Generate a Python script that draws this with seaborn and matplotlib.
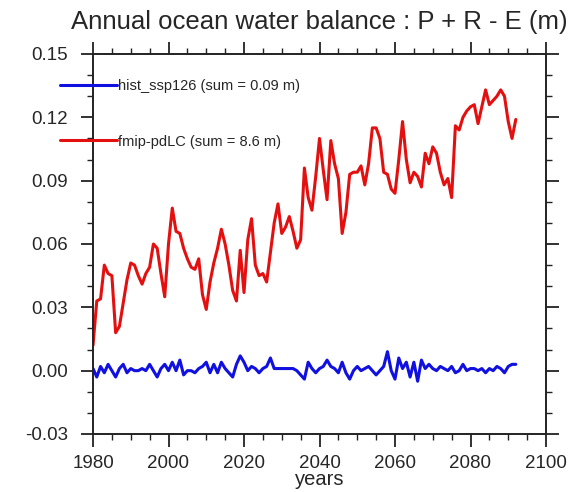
import matplotlib
matplotlib.use("Agg")
import matplotlib.pyplot as plt
from matplotlib.ticker import MultipleLocator, FormatStrFormatter, FuncFormatter
import numpy as np
import pandas as pd
import seaborn as sns

years = list(range(1980, 2093))

# fmip-pdLC, annual ocean P + R - E (m)
fmip_pdlc = [
    0.012, 0.033, 0.034, 0.050, 0.046, 0.045, 0.018, 0.021, 0.032, 0.043,
    0.051, 0.050, 0.045, 0.041, 0.046, 0.049, 0.060, 0.058, 0.046, 0.035,
    0.060, 0.077, 0.066, 0.065, 0.058, 0.053, 0.049, 0.048, 0.053, 0.036,
    0.029, 0.042, 0.051, 0.058, 0.067, 0.060, 0.050, 0.038, 0.033, 0.057,
    0.037, 0.062, 0.072, 0.050, 0.045, 0.046, 0.042, 0.056, 0.070, 0.079,
    0.065, 0.068, 0.073, 0.066, 0.058, 0.062, 0.096, 0.082, 0.076, 0.092,
    0.110, 0.095, 0.081, 0.109, 0.098, 0.091, 0.065, 0.075, 0.093, 0.094,
    0.094, 0.097, 0.088, 0.098, 0.115, 0.115, 0.110, 0.094, 0.093, 0.086,
    0.084, 0.100, 0.118, 0.100, 0.089, 0.094, 0.092, 0.087, 0.103, 0.098,
    0.106, 0.103, 0.094, 0.088, 0.091, 0.082, 0.116, 0.114, 0.120, 0.123,
    0.125, 0.126, 0.117, 0.125, 0.133, 0.126, 0.128, 0.130, 0.133, 0.130,
    0.118, 0.110, 0.119,
]

# hist_ssp126
hist_ssp126 = [
    0.001, -0.003, 0.002, -0.001, 0.003, 0.000, -0.003, 0.001, 0.003, -0.001,
    0.001, 0.000, 0.000, 0.001, 0.000, 0.003, 0.000, -0.003, 0.001, 0.003,
    0.000, 0.004, 0.000, 0.005, -0.002, 0.000, 0.000, -0.001, 0.001, 0.002,
    0.004, -0.001, 0.003, -0.001, 0.004, 0.001, -0.001, -0.003, 0.003, 0.007,
    0.004, 0.000, 0.002, 0.001, -0.001, 0.001, 0.002, 0.006, 0.001, 0.001,
    0.001, 0.001, 0.001, 0.001, 0.000, -0.002, -0.004, 0.004, 0.001, -0.001,
    0.001, 0.002, 0.005, 0.002, 0.001, -0.001, 0.004, -0.001, -0.004, 0.000,
    0.002, 0.000, 0.001, 0.002, 0.000, -0.002, 0.000, 0.002, 0.009, 0.000,
    -0.004, 0.006, 0.001, 0.004, -0.003, 0.004, -0.005, 0.005, 0.001, 0.003,
    0.001, 0.000, 0.002, 0.001, 0.000, 0.002, -0.001, 0.000, 0.003, 0.000,
    0.001, 0.001, 0.000, 0.001, -0.001, 0.001, 0.000, 0.002, 0.001, -0.001,
    0.002, 0.003, 0.003,
]

labels = ["hist_ssp126 (sum = 0.09 m)", "fmip-pdLC (sum = 8.6 m)"]
colors = ["#1010e0", "#e41010"]
x_ticks = list(range(1980, 2101, 5))

sns.set_style("white")
plt.rcParams['font.family'] = ['Liberation Sans', 'DejaVu Sans']

data = pd.concat([
    pd.DataFrame({'year': years, 'value': hist_ssp126, 'run': labels[0]}),
    pd.DataFrame({'year': years, 'value': fmip_pdlc, 'run': labels[1]}),
])

figure = plt.figure(figsize=(5.83, 4.92), dpi=100)
axis = figure.add_axes([93 / 583, 1 - 434 / 492, 453 / 583, 380 / 492])

sns.lineplot(data=data, x='year', y='value', hue='run',
             palette=colors, linewidth=2.2, ax=axis)

axis.set_xlim(1980, 2100)
axis.set_ylim(-0.03, 0.15)
# every 5 years a tick, labels only every 20 years
axis.set_xticks(x_ticks)
axis.xaxis.set_major_formatter(FuncFormatter(
    lambda v, pos: '%d' % v if int(round(v)) % 20 == 0 else ''))
axis.yaxis.set_major_locator(MultipleLocator(0.03))
axis.yaxis.set_minor_locator(MultipleLocator(0.01))
axis.yaxis.set_major_formatter(FormatStrFormatter('%.2f'))
axis.tick_params(which='both', direction='out', bottom=True, top=True,
                 left=True, right=True, labeltop=False, labelright=False,
                 color='#222222')
axis.tick_params(axis='x', which='major', length=9, width=1.3,
                 labelsize=13.5, pad=6)
axis.tick_params(axis='y', which='major', length=9, width=1.3,
                 labelsize=13.5, pad=9)
axis.tick_params(axis='y', which='minor', length=4.5, width=1.0)
for year, tick in zip(x_ticks, axis.xaxis.get_major_ticks(len(x_ticks))):
    if year % 20 != 0:
        for line in (tick.tick1line, tick.tick2line):
            line.set_markersize(4.5)
            line.set_markeredgewidth(1.0)
for spine in axis.spines.values():
    spine.set_linewidth(1.4)
    spine.set_color('#222222')

axis.set_xlabel('years', fontsize=14.5, labelpad=-1)
axis.set_ylabel('')
axis.set_title('Annual ocean water balance : P + R - E (m)', fontsize=18.5, pad=18)

axis.legend(loc='upper left', bbox_to_anchor=(60 / 583, 1 - 79 / 492),
            bbox_transform=figure.transFigure, frameon=False, fontsize=10.5,
            handlelength=3.9, handletextpad=0.05, labelspacing=2.85,
            borderpad=0, borderaxespad=0)

figure.savefig('out.png', dpi=100)
